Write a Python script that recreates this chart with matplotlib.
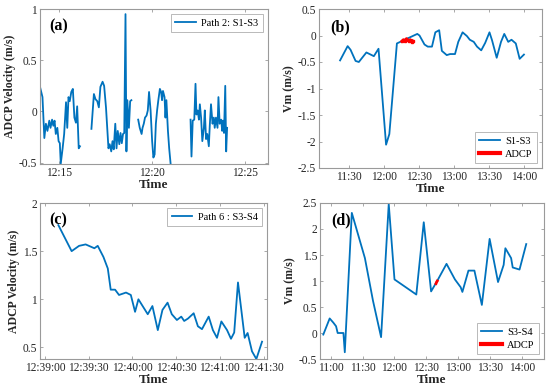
import numpy as np
import matplotlib
matplotlib.use("Agg")
import matplotlib.pyplot as plt

plt.rcParams['font.family'] = ['Liberation Serif', 'DejaVu Serif']

BLUE = '#0072BD'
RED = '#FF0000'
AXC = '#262626'
SPC = '#9a9a9a'

# (a) ADCP path 2, seconds after 12:00, gaps between segments
a_t1 = [838, 846, 852, 857, 862, 868, 872, 877, 881, 885, 889, 894, 898, 902, 905,
        911, 916, 922, 926, 930, 934, 939, 944, 949, 954, 958, 963, 967]
a_v1 = [0.24, 0.14, -0.26, -0.12, -0.19, -0.09, -0.16, -0.08, -0.14, -0.09, -0.22, -0.16,
        -0.29, -0.31, -0.51, -0.36, -0.22, 0.09, -0.16, 0.14, 0.10, 0.19, 0.22, -0.06,
        -0.11, 0.05, -0.36, -0.34]
a_t2 = [1004, 1012, 1017, 1023, 1028, 1033, 1040, 1045, 1051, 1055, 1059, 1063, 1068,
        1072, 1076, 1081, 1085, 1089, 1094, 1098, 1102, 1106, 1110, 1114, 1117, 1120,
        1125, 1129, 1133]
a_v2 = [-0.17, 0.17, 0.12, 0.10, 0.04, 0.24, 0.29, 0.25, 0.04, -0.16, -0.36, -0.32,
        -0.39, -0.29, -0.37, -0.12, -0.36, -0.19, -0.32, -0.21, -0.31, -0.22, -0.21,
        0.95, -0.39, 0.11, -0.16, 0.10, 0.11]
a_t3 = [1155, 1160, 1166, 1169, 1173, 1177, 1182, 1186, 1190, 1195, 1200, 1204, 1208,
        1212, 1216, 1220, 1225, 1229, 1232, 1235, 1240, 1243, 1246, 1251, 1255, 1259,
        1263]
a_v3 = [-0.08, -0.16, -0.22, -0.16, -0.12, -0.06, -0.04, 0.01, 0.19, 0.01, -0.29,
        -0.45, -0.42, -0.12, 0.01, 0.11, 0.22, 0.19, 0.11, 0.20, 0.14, -0.06, 0.11,
        -0.19, -0.36, -0.49, -0.62]
a_t4 = [1324, 1327, 1331, 1336, 1340, 1343, 1347, 1351, 1354, 1358, 1362, 1367, 1370,
        1374, 1378, 1383, 1386, 1390, 1395, 1399, 1402, 1406, 1411, 1414, 1418, 1423,
        1426, 1429, 1432, 1436, 1439, 1442]
a_v4 = [-0.08, -0.44, -0.09, -0.08, 0.27, -0.03, 0.01, -0.08, 0.07, -0.06, -0.29,
        -0.16, 0.01, -0.27, -0.22, -0.34, -0.14, 0.07, -0.12, -0.06, -0.16, -0.06,
        -0.16, 0.14, -0.12, -0.08, -0.19, -0.09, -0.21, 0.25, -0.39, -0.16]
a_ticks = [900, 1200, 1500]
a_labels = ['12:15', '12:20', '12:25']

# (b) Vm S1-S3, minutes after 11:00
b_t = [22.1, 28.6, 31.1, 35.4, 38.2, 44.7, 51.1, 55.1, 61.6, 64.4, 70.9, 75.7, 88.4,
       90.3, 94.6, 97.4, 101.0, 103.9, 107.2, 109.5, 113.7, 116.6, 120.8, 123.6, 127.3,
       131.0, 133.5, 136.9, 139.7, 143.3, 146.7, 150.4, 152.6, 156.6, 160.3, 163.1,
       166.5, 169.3, 173.0, 176.3, 180.0]
b_v = [-0.47, -0.20, -0.27, -0.48, -0.50, -0.32, -0.39, -0.25, -2.06, -1.86, -0.15,
       -0.10, 0.03, 0.00, -0.17, -0.21, -0.21, 0.06, 0.10, -0.29, -0.37, -0.35, -0.35,
       -0.12, 0.06, -0.01, -0.08, -0.12, -0.21, -0.28, -0.14, 0.06, -0.09, -0.42,
       -0.12, 0.03, -0.12, -0.08, -0.15, -0.44, -0.36]
b_adcp_t = [75.1, 76.5, 77.9, 79.1, 80.2, 81.3, 82.4, 83.6, 84.4]
b_adcp_v = [-0.11, -0.08, -0.10, -0.06, -0.09, -0.10, -0.08, -0.12, -0.10]

# (c) ADCP path 6, seconds after 12:39:00
c_t = [9.2, 18.3, 23.4, 27.9, 33.9, 36.2, 40.1, 43.1, 45.1, 48.1, 50.8, 55.6, 58.9,
       61.8, 64.1, 70.5, 73.7, 77.4, 80.6, 84.1, 87.0, 90.5, 93.5, 95.5, 98.1, 102.0,
       104.9, 107.7, 112.3, 115.2, 118.0, 121.0, 124.9, 127.6, 129.8, 132.4, 137.0,
       139.0, 142.0, 145.0, 148.9]
c_v = [1.77, 1.50, 1.555, 1.57, 1.53, 1.555, 1.44, 1.32, 1.10, 1.10, 1.045, 1.07, 1.045,
       0.87, 1.00, 0.845, 0.93, 0.68, 0.89, 0.965, 0.845, 0.785, 0.82, 0.775, 0.80,
       0.855, 0.72, 0.69, 0.82, 0.68, 0.60, 0.77, 0.68, 0.59, 0.655, 1.175, 0.60, 0.65,
       0.46, 0.38, 0.56]
c_ticks = [0, 30, 60, 90, 120, 150]
c_labels = ['12:39:00', '12:39:30', '12:40:00', '12:40:30', '12:41:00', '12:41:30']

# (d) Vm S3-S4, minutes after 11:00
d_t = [-6.9, -0.9, 2.5, 5.1, 6.6, 12.0, 13.3, 19.9, 32.2, 39.8, 47.4, 54.6, 60.0, 80.5,
       87.5, 94.4, 100.1, 108.9, 116.8, 122.2, 123.8, 129.5, 135.1, 142.1, 149.4, 157.3,
       162.6, 164.2, 169.6, 171.1, 177.5, 183.8]
d_v = [-0.03, 0.28, 0.20, 0.13, 0.00, 0.00, -0.37, 2.31, 1.44, 0.62, -0.08, 2.48, 1.03,
       0.74, 2.13, 0.80, 1.00, 1.33, 1.03, 0.88, 0.79, 1.20, 1.20, 0.54, 1.81, 0.98,
       1.31, 1.63, 1.44, 1.26, 1.22, 1.71]
d_adcp_t = [99.0, 99.6, 100.2]
d_adcp_v = [0.95, 0.98, 1.00]

bd_ticks = [0, 30, 60, 90, 120, 150, 180]
bd_labels = ['11:00', '11:30', '12:00', '12:30', '13:00', '13:30', '14:00']

W, H = 550, 390
fig = plt.figure(figsize=(5.5, 3.9), dpi=100)


def box(l, r, t, b):
    return fig.add_axes([l / W, 1 - b / H, (r - l) / W, (b - t) / H])


def style(ax, ylab):
    for s in ax.spines.values():
        s.set_color(SPC)
        s.set_linewidth(0.8)
    ax.tick_params(direction='in', length=2.5, width=0.6, color=SPC,
                   labelsize=8.3, labelcolor=AXC, top=True, right=True, pad=2)
    ax.set_xlabel('Time', fontsize=9.5, fontweight='bold', color=AXC, labelpad=0)
    ax.set_ylabel(ylab, fontsize=8.5, fontweight='bold', color=AXC, labelpad=2)


def leg(ax, loc):
    lg = ax.legend(loc=loc, fontsize=7.5, frameon=True, fancybox=False, edgecolor=SPC,
                   handlelength=2.0, handletextpad=0.5, labelspacing=0.35,
                   borderpad=0.4, borderaxespad=0.5)
    lg.get_frame().set_linewidth(0.6)
    return lg


def seg(*parts):
    out = []
    for i, p in enumerate(parts):
        if i:
            out.append(np.nan)
        out.extend(p)
    return np.array(out)


ax = box(40, 268, 9, 164)
ax.plot(seg(a_t1, a_t2, a_t3, a_t4), seg(a_v1, a_v2, a_v3, a_v4), color=BLUE, lw=1.3,
        label='Path 2: S1-S3')
ax.set_xlim(838, 1574)
ax.set_ylim(-0.513, 1)
ax.set_yticks([-0.5, 0, 0.5, 1])
ax.set_yticklabels(['-0.5', '0', '0.5', '1'])
ax.set_xticks(a_ticks)
ax.set_xticklabels(a_labels)
style(ax, 'ADCP Velocity (m/s)')
ax.text(0.04, 0.86, '(a)', transform=ax.transAxes, fontsize=11.5, fontweight='bold')
leg(ax, 'upper right')

ax = box(319, 542, 9, 168)
ax.plot(b_t, b_v, color=BLUE, lw=1.3, label='S1-S3')
ax.plot(b_adcp_t, b_adcp_v, color=RED, lw=2.0, marker='s', ms=2, label='ADCP')
ax.set_xlim(4, 195.5)
ax.set_ylim(-2.5, 0.5)
ax.set_yticks([-2.5, -2, -1.5, -1, -0.5, 0, 0.5])
ax.set_yticklabels(['-2.5', '-2', '-1.5', '-1', '-0.5', '0', '0.5'])
ax.set_xticks(bd_ticks[1:])
ax.set_xticklabels(bd_labels[1:])
style(ax, 'Vm (m/s)')
ax.text(0.05, 0.86, '(b)', transform=ax.transAxes, fontsize=11.5, fontweight='bold')
lg = leg(ax, 'lower right')
lg.legend_handles[1].set_linewidth(3)
lg.legend_handles[1].set_marker('')

ax = box(40, 267, 203, 359)
ax.plot(c_t, c_v, color=BLUE, lw=1.3, label='Path 6 : S3-S4')
ax.set_xlim(-3.4, 152.3)
ax.set_ylim(0.38, 2)
ax.set_yticks([0.5, 1, 1.5, 2])
ax.set_yticklabels(['0.5', '1', '1.5', '2'])
ax.set_xticks(c_ticks)
ax.set_xticklabels(c_labels)
style(ax, 'ADCP Velocity (m/s)')
ax.text(0.04, 0.86, '(c)', transform=ax.transAxes, fontsize=11.5, fontweight='bold')
leg(ax, 'upper right')

ax = box(320, 544, 203, 359)
ax.plot(d_t, d_v, color=BLUE, lw=1.3, label='S3-S4')
ax.plot(d_adcp_t, d_adcp_v, color=RED, lw=2.0, label='ADCP')
ax.set_xlim(-10, 200.5)
ax.set_ylim(-0.5, 2.5)
ax.set_yticks([-0.5, 0, 0.5, 1, 1.5, 2, 2.5])
ax.set_yticklabels(['-0.5', '0', '0.5', '1', '1.5', '2', '2.5'])
ax.set_xticks(bd_ticks)
ax.set_xticklabels(bd_labels)
style(ax, 'Vm (m/s)')
ax.text(0.05, 0.86, '(d)', transform=ax.transAxes, fontsize=11.5, fontweight='bold')
lg = leg(ax, 'lower right')
lg.legend_handles[1].set_linewidth(3)

fig.savefig('out.png', dpi=100)
